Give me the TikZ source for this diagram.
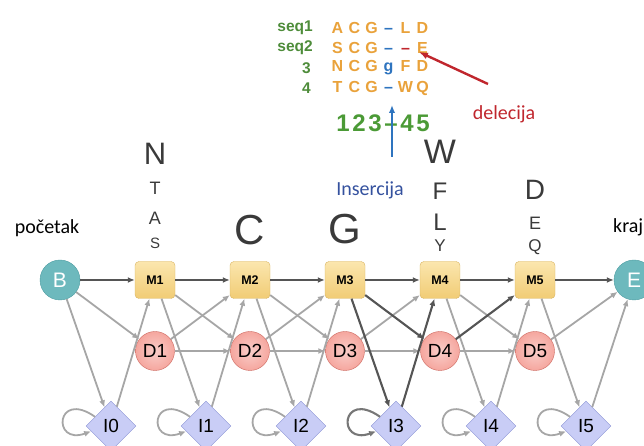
\documentclass[tikz,border=0pt]{standalone}
\usepackage{fontspec}
\setmainfont{Liberation Sans}
\newfontfamily\calibri{Carlito}
\usepackage{tikz}
\usetikzlibrary{shapes, arrows.meta, positioning}
\definecolor{tealfill}{HTML}{6DB9BD}
\definecolor{tealline}{HTML}{4E9DA2}
\definecolor{mtop}{HTML}{FBE6AE}
\definecolor{mbot}{HTML}{F1CC75}
\definecolor{mline}{HTML}{D8B462}
\definecolor{dfill}{HTML}{F5A69E}
\definecolor{dline}{HTML}{CC675E}
\definecolor{ifill}{HTML}{C9CDF6}
\definecolor{iline}{HTML}{8A92D4}
\definecolor{edgegray}{HTML}{A6A6A6}
\definecolor{edgedark}{HTML}{555555}
\definecolor{resorange}{HTML}{E9A23B}
\definecolor{alngreen}{HTML}{4E8C3A}
\definecolor{numgreen}{HTML}{4B9A36}
\definecolor{alnblue}{HTML}{2E74BF}
\definecolor{insblue}{HTML}{34519E}
\definecolor{delred}{HTML}{C0262D}
\definecolor{logogray}{HTML}{3A3A3A}
\newcommand{\fsz}[1]{\fontsize{#1}{#1}\selectfont}
\newcommand{\res}[1]{\makebox[17pt]{\textcolor{resorange}{#1}}}
\newcommand{\gapres}[1]{\makebox[17pt]{\textcolor{alnblue}{#1}}}
\newcommand{\delres}[1]{\makebox[17pt]{\textcolor{delred}{#1}}}
\newcommand{\colnum}[1]{\makebox[16pt]{#1}}
\tikzstyle{bstate} = [circle, draw=tealline, fill=tealfill, minimum size=40pt, inner sep=0pt, text=white, font=\fsz{21}]
\tikzstyle{mstate} = [rectangle, rounded corners=4pt, draw=mline, top color=mtop, bottom color=mbot, minimum width=40pt, minimum height=37pt, inner sep=0pt, font=\fsz{12.5}\bfseries]
\tikzstyle{dstate} = [circle, draw=dline, inner color=dfill!55!white, outer color=dfill, minimum size=39pt, inner sep=0pt, font=\fsz{19}]
\tikzstyle{istate} = [diamond, draw=iline, fill=ifill, minimum size=50pt, inner sep=0pt, font=\fsz{19}]
\tikzstyle{tr} = [draw=edgegray, line width=1.8pt, ->]
\tikzstyle{trpath} = [draw=edgedark, line width=2.1pt, ->]
\tikzstyle{logo} = [inner sep=0pt, text=logogray]
\tikzstyle{alnrow} = [inner sep=0pt, font=\fsz{16}\bfseries]
\tikzstyle{seqlbl} = [inner sep=0pt, text=alngreen, font=\fsz{15.5}\bfseries]
\tikzstyle{lbl} = [inner sep=0pt, font=\calibri\fsz{20}]

\begin{document}
\begin{tikzpicture}[x=1pt, y=1pt, >={Latex[length=7pt,width=6pt]}, node distance=95pt]
  \useasboundingbox (0,0) rectangle (644,446);
  % main states
  \node[bstate] (B) at (60,166) {B};
  \node[mstate, right of=B] (M1) {M1};
  \node[mstate, right of=M1] (M2) {M2};
  \node[mstate, right of=M2] (M3) {M3};
  \node[mstate, right of=M3] (M4) {M4};
  \node[mstate, right of=M4] (M5) {M5};
  \node[bstate, right of=M5, node distance=99pt] (E) {E};
  \node[dstate, below of=M1, node distance=71pt] (D1) {D1};
  \node[dstate, below of=M2, node distance=71pt] (D2) {D2};
  \node[dstate, below of=M3, node distance=71pt] (D3) {D3};
  \node[dstate, below of=M4, node distance=71pt] (D4) {D4};
  \node[dstate, below of=M5, node distance=71pt] (D5) {D5};
  \node[istate] (I0) at (111,20) {I0};
  \node[istate, right of=I0] (I1) {I1};
  \node[istate, right of=I1] (I2) {I2};
  \node[istate, right of=I2] (I3) {I3};
  \node[istate, right of=I3] (I4) {I4};
  \node[istate, right of=I4] (I5) {I5};

  % transitions
  \draw[tr] (B) -- (D1);
  \draw[tr] (B) -- (I0);
  \draw[tr] (I0) -- (M1);
  \draw[tr] (M1) -- (D2);
  \draw[tr] (M1) -- (I1);
  \draw[tr] (D1) -- (M2);
  \draw[tr] (D1) -- (D2);
  \draw[tr] (I1) -- (M2);
  \draw[tr] (M2) -- (D3);
  \draw[tr] (M2) -- (I2);
  \draw[tr] (D2) -- (M3);
  \draw[tr] (D2) -- (D3);
  \draw[tr] (I2) -- (M3);
  \draw[tr] (D3) -- (M4);
  \draw[tr] (D3) -- (D4);
  \draw[tr] (M4) -- (D5);
  \draw[tr] (M4) -- (I4);
  \draw[tr] (D4) -- (D5);
  \draw[tr] (I4) -- (M5);
  \draw[tr] (M5) -- (I5);
  \draw[tr] (D5) -- (E);
  \draw[tr] (I5) -- (E);
  \draw[tr] (I0.150) .. controls +(145:48) and +(200:42) .. (I0.195);
  \draw[tr] (I1.150) .. controls +(145:48) and +(200:42) .. (I1.195);
  \draw[tr] (I2.150) .. controls +(145:48) and +(200:42) .. (I2.195);
  \draw[tr] (I4.150) .. controls +(145:48) and +(200:42) .. (I4.195);
  \draw[tr] (I5.150) .. controls +(145:48) and +(200:42) .. (I5.195);
  % path of the example
  \draw[trpath] (B) -- (M1);
  \draw[trpath] (M1) -- (M2);
  \draw[trpath] (M2) -- (M3);
  \draw[trpath] (M3) -- (M4);
  \draw[trpath] (M4) -- (M5);
  \draw[trpath] (M5) -- (E);
  \draw[trpath] (M3) -- (I3);
  \draw[trpath] (M3) -- (D4);
  \draw[trpath] (I3) -- (M4);
  \draw[trpath] (D4) -- (M5);
  \draw[trpath, draw=edgedark!80] (I3.150) .. controls +(145:48) and +(200:42) .. (I3.195);

  % emission letters
  \node[logo, font=\fsz{15}, above of=M1, node distance=37pt] (S1) {S};
  \node[logo, font=\fsz{18}, above of=S1, node distance=25pt] (A1) {A};
  \node[logo, font=\fsz{18}, above of=A1, node distance=30pt] (T1) {T};
  \node[logo, font=\fsz{31}, above of=T1, node distance=34pt] (N1) {N};
  \node[logo, font=\fsz{42}, above of=M2, node distance=50pt] (C2) {C};
  \node[logo, font=\fsz{42}, above of=M3, node distance=51pt] (G3) {G};
  \node[logo, font=\fsz{17}, above of=M4, node distance=34pt] (Y4) {Y};
  \node[logo, font=\fsz{24}, above of=Y4, node distance=24pt] (L4) {L};
  \node[logo, font=\fsz{24}, above of=L4, node distance=31pt] (F4) {F};
  \node[logo, font=\fsz{34}, above of=F4, node distance=39pt] (W4) {W};
  \node[logo, font=\fsz{17}, above of=M5, node distance=33pt] (Q5) {Q};
  \node[logo, font=\fsz{18}, above of=Q5, node distance=24pt] (E5) {E};
  \node[logo, font=\fsz{28}, above of=E5, node distance=33pt] (D5l) {D};

  \node[lbl, text=black] (start) at (47,218) {početak};
  \node[lbl, text=black, anchor=west] (end) at (613,219) {kraj};

  % alignment
  \node[alnrow] (row1) at (380,418) {\res{A}\res{C}\res{G}\gapres{\textendash}\res{L}\res{D}};
  \node[alnrow] (row2) at (380,398) {\res{S}\res{C}\res{G}\gapres{\textendash}\delres{\textendash}\res{E}};
  \node[alnrow] (row3) at (380,378) {\res{N}\res{C}\res{G}\gapres{g}\res{F}\res{D}};
  \node[alnrow] (row4) at (380,358) {\res{T}\res{C}\res{G}\gapres{\textendash}\res{W}\res{Q}};
  \node[seqlbl, anchor=east] (lab1) at (313,418) {seq1};
  \node[seqlbl, anchor=east] (lab2) at (313,398) {seq2};
  \node[seqlbl, anchor=east] (lab3) at (311,378) {3};
  \node[seqlbl, anchor=east] (lab4) at (311,358) {4};
  \node[alnrow, text=numgreen, font=\fsz{24}\bfseries] (cols) at (383,323) {\colnum{1}\colnum{2}\colnum{3}\colnum{\textendash}\colnum{4}\colnum{5}};

  \node[lbl, text=insblue] (ins) at (370,256) {Insercija};
  \coordinate (insTail) at (392,289);
  \coordinate (insTip) at (392,341);
  \draw[alnblue, line width=2.2pt, -{Latex[length=8pt,width=6.5pt]}] (insTail) -- (insTip);

  \node[lbl, text=delred] (del) at (504,332) {delecija};
  \coordinate (delTail) at (488,362);
  \coordinate (delTip) at (419,394);
  \draw[delred, line width=2.4pt, -{Latex[length=9pt,width=7pt]}] (delTail) -- (delTip);
\end{tikzpicture}
\end{document}
